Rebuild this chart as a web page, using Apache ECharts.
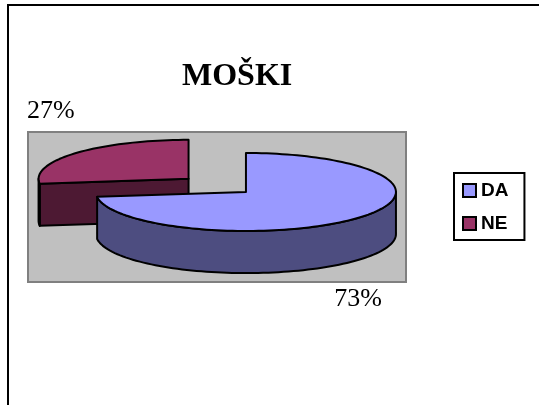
<!DOCTYPE html>
<html>
<head>
<meta charset="utf-8">
<style>
  html, body { margin: 0; padding: 0; background: #fff; }
  #chart { width: 539px; height: 405px; }
</style>
<script src="https://cdn.jsdelivr.net/npm/echarts@6/dist/echarts.min.js"></script>
</head>
<body>
<div id="chart"></div>
<script>
const categories = ['DA', 'NE'];
const shares = [73, 27];
const topColors = ['#9999FF', '#993366'];
const sideColors = ['#4D4D80', '#4D1933'];

// axes are in pie radii, so ry/rx of the tilt comes from the axis ranges
const DEPTH = 1.08;
const EXPLODE = [0, 0.51];
const labelAnchors = [[0.747, -2.74], [-1.3, 2.06]];

const total = shares.reduce((a, b) => a + b, 0);
const startShare = (i) => shares.slice(0, i).reduce((a, b) => a + b, 0);

const renderSlice = (i) => (params, api) => {
  const a0 = (startShare(i) / total) * 360;
  const a1 = a0 + (shares[i] / total) * 360;
  const mid = (((a0 + a1) / 2) * Math.PI) / 180;
  const cx = Math.sin(mid) * EXPLODE[i];
  const cy = Math.cos(mid) * EXPLODE[i];
  const rim = (deg, drop) => {
    const r = (deg * Math.PI) / 180;
    return api.coord([cx + Math.sin(r), cy + Math.cos(r) - drop]);
  };
  const arc = (from, to, drop) => {
    const pts = [];
    const n = Math.max(1, Math.ceil(Math.abs(to - from) / 2));
    for (let k = 0; k <= n; k++) pts.push(rim(from + ((to - from) * k) / n, drop));
    return pts;
  };
  const line = { stroke: '#000', lineWidth: 2, lineJoin: 'round' };
  const face = (points, fill) => ({
    type: 'polygon',
    shape: { points },
    style: Object.assign({ fill }, line)
  });
  const apex = api.coord([cx, cy]);
  const apexLow = api.coord([cx, cy - DEPTH]);
  const children = [];

  // cut wall that faces the viewer
  if (Math.sin((a0 * Math.PI) / 180) < -0.01) {
    children.push(face([apex, rim(a0, 0), rim(a0, DEPTH), apexLow], sideColors[i]));
  }
  // outer wall, front half only
  const from = Math.max(a0, 90);
  const to = Math.min(a1, 270);
  if (to > from) {
    children.push(face(arc(from, to, 0).concat(arc(to, from, DEPTH)), sideColors[i]));
  }
  children.push(face([apex].concat(arc(a0, a1, 0)), topColors[i]));

  const pos = api.coord(labelAnchors[i]);
  children.push({
    type: 'text',
    x: pos[0],
    y: pos[1],
    style: {
      text: shares[i] + '%',
      fill: '#000',
      font: '26px "Liberation Serif"',
      align: 'center',
      verticalAlign: 'middle'
    }
  });
  return { type: 'group', children };
};

const option = {
  backgroundColor: '#fff',
  animation: false,
  title: {
    text: 'MOŠKI',
    left: 182,
    top: 61,
    padding: 0,
    textStyle: { fontFamily: 'Liberation Serif', fontWeight: 'bold', fontSize: 32, color: '#000' }
  },
  legend: {
    left: 454,
    top: 173,
    orient: 'vertical',
    data: categories,
    icon: 'rect',
    itemWidth: 13,
    itemHeight: 13,
    itemGap: 14,
    padding: [8, 16, 7, 8],
    borderColor: '#000',
    borderWidth: 2,
    backgroundColor: '#fff',
    itemStyle: { borderColor: '#000', borderWidth: 2 },
    textStyle: { fontFamily: 'Liberation Sans', fontWeight: 'bold', fontSize: 19, lineHeight: 14, color: '#000' }
  },
  grid: {
    show: true,
    left: 28,
    top: 132,
    width: 378,
    height: 150,
    backgroundColor: '#C0C0C0',
    borderColor: '#808080',
    borderWidth: 2
  },
  xAxis: { type: 'value', show: false, min: -1.453, max: 1.067 },
  yAxis: { type: 'value', show: false, min: -2.308, max: 1.538 },
  series: categories.map((name, i) => ({
    name,
    type: 'custom',
    coordinateSystem: 'cartesian2d',
    clip: false,
    z: 3 - i,
    itemStyle: { color: topColors[i] },
    renderItem: renderSlice(i),
    data: [[shares[i]]]
  })),
  graphic: [
    {
      type: 'polyline',
      silent: true,
      shape: { points: [[8, 405], [8, 5], [539, 5]] },
      style: { fill: null, stroke: '#000', lineWidth: 2 }
    }
  ]
};

const myChart = echarts.init(document.getElementById('chart'));
myChart.setOption(option);
</script>
</body>
</html>
